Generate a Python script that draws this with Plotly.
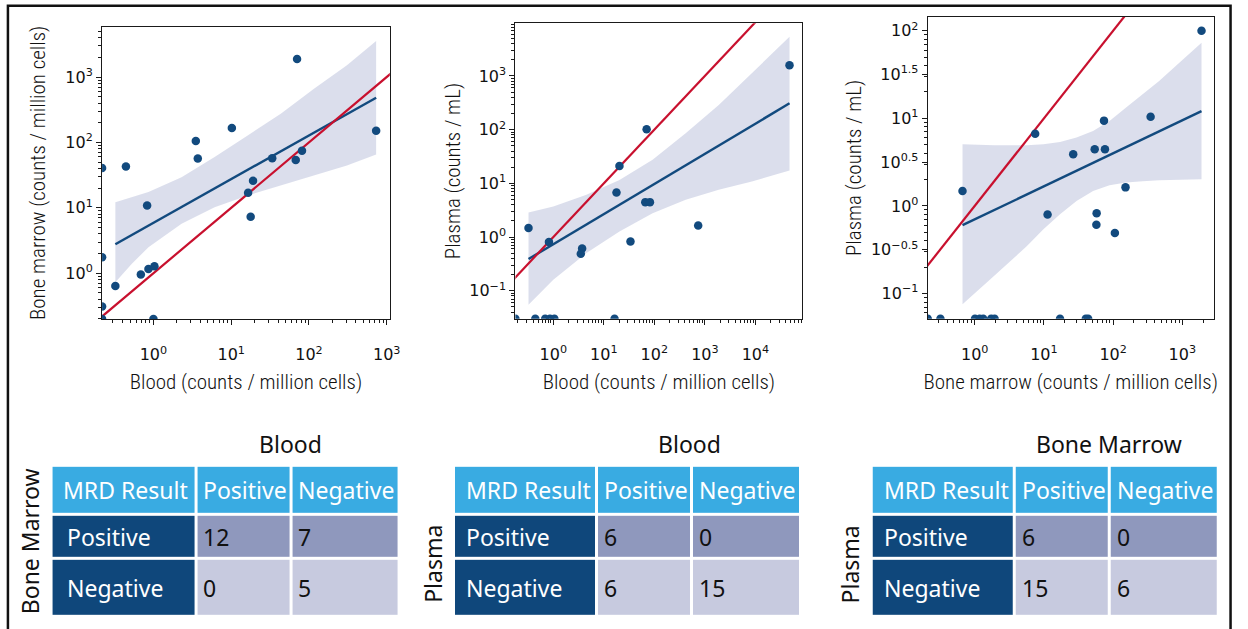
import plotly.graph_objects as go

W, H = 1248, 629

# ---------------- data (0 = below detection, drawn on the axis floor)
# Panel 1: Blood (x) vs Bone marrow (y), counts / million cells
p1_blood = [0, 0, 0, 0, 0.324, 0.443, 0.689, 0.830, 0.863, 1.03, 1.0, 3.51, 3.72,
            10.2, 16.5, 17.8, 19.1, 33.7, 67.6, 70.3, 81.4, 731]
p1_marrow = [40.5, 1.76, 0.309, 0, 0.64, 42.9, 0.954, 10.9, 1.165, 1.28, 0, 105, 56.9,
             166, 17.0, 7.28, 25.9, 57.5, 53.7, 1888, 74.5, 151]
p1_fit_x = [0.324, 731]
p1_fit_y = [2.78, 483]
p1_band_x = [0.324, 0.528, 0.863, 2.30, 6.12, 16.3, 43.4, 116, 308, 731]
p1_band_hi = [12.2, 14.6, 17.4, 29.4, 59.7, 128, 275, 662, 1510, 3560]
p1_band_lo = [0.728, 1.39, 2.50, 5.69, 10.2, 15.5, 22.0, 31.3, 44.5, 65.5]

# Panel 2: Blood (x) vs Plasma (y)
p2_blood = [0, 0.323, 0.44, 0.69, 0.86, 1.05, 0.82, 3.72, 3.50, 17.8, 20.4, 70.3,
            33.7, 66.2, 81.8, 738, 47400, 16.3]
p2_plasma = [0, 1.47, 0, 0, 0, 0, 0.81, 0.614, 0.49, 6.75, 21.1, 101.6,
             0.83, 4.47, 4.47, 1.64, 1574, 0]
p2_fit_x = [0.323, 47400]
p2_fit_y = [0.39, 309]
p2_band_x = [0.323, 1.0, 4.53, 20.4, 92.3, 417, 1884, 8511, 47400]
p2_band_hi = [2.86, 3.71, 6.11, 11.6, 27.4, 85.7, 288, 1117, 5358]
p2_band_lo = [0.0552, 0.161, 0.504, 1.27, 2.79, 4.93, 7.57, 10.8, 17.3]

# Panel 3: Bone marrow (x) vs Plasma (y)
p3_marrow = [0.667, 7.48, 11.3, 26.5, 54.2, 76.2, 73.8, 57.8, 57.3, 106, 151, 348, 1892,
             0, 0.32, 1.01, 1.18, 1.33, 1.73, 1.94, 17.1, 40.3, 43.6]
p3_plasma = [1.48, 6.68, 0.80, 3.89, 4.44, 4.44, 9.42, 0.826, 0.612, 0.492, 1.63, 10.4, 100,
             0, 0, 0, 0, 0, 0, 0, 0, 0, 0]
p3_fit_x = [0.667, 1892]
p3_fit_y = [0.603, 12.1]
p3_band_x = [0.667, 1.90, 5.69, 9.84, 17.1, 29.6, 51.3, 88.7, 154, 267, 462, 802, 1892]
p3_band_hi = [5.06, 4.93, 4.93, 5.06, 5.38, 6.03, 7.18, 9.33, 13.3, 18.8, 26.7, 39.6, 73.1]
p3_band_lo = [0.0755, 0.159, 0.349, 0.542, 0.804, 1.14, 1.48, 1.72, 1.85, 1.91, 1.96, 2.0, 2.02]

identity_line = [0.01, 1e5]   # y = x reference

# Tick labels
p1_xticks = [1, 10, 100, 1000]
p1_xtext = ["10<sup>0</sup>", "10<sup>1</sup>", "10<sup>2</sup>", "10<sup>3</sup>"]
p1_yticks = [1, 10, 100, 1000]
p1_ytext = p1_xtext
p2_xticks = [1, 10, 100, 1000, 10000]
p2_xtext = ["10<sup>0</sup>", "10<sup>1</sup>", "10<sup>2</sup>", "10<sup>3</sup>", "10<sup>4</sup>"]
p2_yticks = [0.1, 1, 10, 100, 1000]
p2_ytext = ["10<sup>\u22121</sup>", "10<sup>0</sup>", "10<sup>1</sup>", "10<sup>2</sup>", "10<sup>3</sup>"]
p3_xticks = [1, 10, 100, 1000]
p3_xtext = p1_xtext
p3_yexp = [-1, -0.5, 0, 0.5, 1, 1.5, 2]
p3_ytext = ["10<sup>\u22121</sup>", "10<sup>\u22120.5</sup>", "10<sup>0</sup>", "10<sup>0.5</sup>",
            "10<sup>1</sup>", "10<sup>1.5</sup>", "10<sup>2</sup>"]

# Tables (contingency counts)
tbl_header = ["MRD Result", "Positive", "Negative"]
tbl_rows = ["Positive", "Negative"]
t1_col_pos = [12, 0]
t1_col_neg = [7, 5]
t2_col_pos = [6, 6]
t2_col_neg = [0, 15]
t3_col_pos = [6, 15]
t3_col_neg = [0, 6]
t1_title, t1_side = "Blood", "Bone Marrow"
t2_title, t2_side = "Blood", "Plasma"
t3_title, t3_side = "Bone Marrow", "Plasma"

# ---------------- styles / layout constants
NAVY = "#124a7e"
RED = "#c8102e"
BAND = "rgba(190,194,220,0.55)"
HEAD_C = "#39abe2"
ROWLAB_C = "#0f477b"
MID_C = "#8f98bd"
LIGHT_C = "#c7cadf"
TICK_FONT = dict(family="DejaVu Sans", size=16, color="#111")
TITLE_FONT = dict(family="Liberation Sans Narrow, Roboto Condensed, Roboto, sans-serif", size=21,
                  color="#111", weight=300)
TBL_FONT = "Noto Sans"
TBL_SIZE = 23
CELL_ROLES = [[0, 0, 0], [1, 2, 2], [1, 3, 3]]          # header / row label / row-1 / row-2 fill
ROLE_SCALE = [[0, HEAD_C], [1 / 3, ROWLAB_C], [2 / 3, MID_C], [1, LIGHT_C]]
ROW_H = [48.6, 44.5, 57.6]                                # px
TBL_TOP = 465.8


def px_x(p):
    return p / W


def px_y(p):
    return 1 - p / H


panels = [
    dict(x=p1_blood, y=p1_marrow, fx=p1_fit_x, fy=p1_fit_y, bx=p1_band_x, bl=p1_band_lo, bh=p1_band_hi,
         xr=[-0.66, 3.04], yr=[-0.70, 3.77], dom_x=[103, 393.3], dom_y=[26.7, 319],
         xt=p1_xticks, xtt=p1_xtext, yt=p1_yticks, ytt=p1_ytext, ystand=13,
         xtitle="Blood (counts / million cells)", ytitle="Bone marrow (counts / million cells)"),
    dict(x=p2_blood, y=p2_plasma, fx=p2_fit_x, fy=p2_fit_y, bx=p2_band_x, bl=p2_band_lo, bh=p2_band_hi,
         xr=[-0.75, 4.93], yr=[-1.52, 3.98], dom_x=[520, 809.5], dom_y=[23.3, 318.7],
         xt=p2_xticks, xtt=p2_xtext, yt=p2_yticks, ytt=p2_ytext, ystand=2,
         xtitle="Blood (counts / million cells)", ytitle="Plasma (counts / mL)"),
    dict(x=p3_marrow, y=p3_plasma, fx=p3_fit_x, fy=p3_fit_y, bx=p3_band_x, bl=p3_band_lo, bh=p3_band_hi,
         xr=[-0.678, 3.453], yr=[-1.287, 2.157], dom_x=[936, 1224.5], dom_y=[17, 318.7],
         xt=p3_xticks, xtt=p3_xtext, yt=[10 ** e for e in p3_yexp], ytt=p3_ytext, ystand=3,
         xtitle="Bone marrow (counts / million cells)", ytitle="Plasma (counts / mL)"),
]

minor_vals = [m * 10 ** e for e in range(-3, 6) for m in range(2, 10)]

fig = go.Figure()
layout_axes = {}
for i, p in enumerate(panels, start=1):
    xa = "x" if i == 1 else f"x{i}"
    ya = "y" if i == 1 else f"y{i}"
    xfloor = 10 ** p["xr"][0]
    yfloor = 10 ** p["yr"][0]
    xs = [v if v > 0 else xfloor for v in p["x"]]
    ys = [v if v > 0 else yfloor for v in p["y"]]
    fig.add_trace(go.Scatter(x=p["bx"] + p["bx"][::-1], y=p["bh"] + p["bl"][::-1],
                             fill="toself", fillcolor=BAND, line=dict(width=0),
                             mode="lines", hoverinfo="skip", xaxis=xa, yaxis=ya))
    fig.add_trace(go.Scatter(x=p["fx"], y=p["fy"], mode="lines",
                             line=dict(color=NAVY, width=2.4), xaxis=xa, yaxis=ya))
    fig.add_trace(go.Scatter(x=identity_line, y=identity_line, mode="lines",
                             line=dict(color=RED, width=2.2), xaxis=xa, yaxis=ya))
    fig.add_trace(go.Scatter(x=xs, y=ys, mode="markers",
                             marker=dict(color=NAVY, size=8.5, line=dict(width=0)),
                             cliponaxis=True, xaxis=xa, yaxis=ya))
    common = dict(type="log", showgrid=False, zeroline=False, showline=True, mirror=True,
                  linecolor="#1a1a1a", linewidth=1.2, ticks="outside", ticklen=5, tickwidth=1.1,
                  tickcolor="#1a1a1a", tickfont=TICK_FONT, tickmode="array",
                  minor=dict(ticks="outside", ticklen=3, tickwidth=0.9, tickcolor="#1a1a1a",
                             tickmode="array", tickvals=minor_vals),
                  fixedrange=True)
    layout_axes["xaxis" if i == 1 else f"xaxis{i}"] = dict(
        common, range=p["xr"], domain=[px_x(p["dom_x"][0]), px_x(p["dom_x"][1])],
        anchor=ya, tickvals=p["xt"], ticktext=p["xtt"], ticklabelstandoff=16,
        title=dict(text=p["xtitle"], font=TITLE_FONT, standoff=11))
    layout_axes["yaxis" if i == 1 else f"yaxis{i}"] = dict(
        common, range=p["yr"], domain=[px_y(p["dom_y"][1]), px_y(p["dom_y"][0])],
        anchor=xa, tickvals=p["yt"], ticktext=p["ytt"],
        title=dict(text=p["ytitle"], font=TITLE_FONT, standoff=p["ystand"]))

tables = [
    dict(pos=t1_col_pos, neg=t1_col_neg, title=t1_title, side=t1_side, left=52.0,
         cw=[146, 95.7, 109.8], lab_pad=14, title_x=292.8, side_x=30, side_y=541.5),
    dict(pos=t2_col_pos, neg=t2_col_neg, title=t2_title, side=t2_side, left=458.0,
         cw=[144.5, 95.8, 110.2], lab_pad=10, title_x=696, side_x=436.7, side_y=564),
    dict(pos=t3_col_pos, neg=t3_col_neg, title=t3_title, side=t3_side, left=879.5,
         cw=[144.5, 95.9, 110.1], lab_pad=10, title_x=1118.8, side_x=858, side_y=564),
]

annotations = []
for k, t in enumerate(tables, start=4):
    xa, ya = f"x{k}", f"y{k}"
    col_edges = [0]
    for w in t["cw"]:
        col_edges.append(col_edges[-1] + w)
    row_edges = [0]
    for h in ROW_H:
        row_edges.append(row_edges[-1] + h)
    fig.add_trace(go.Heatmap(x=col_edges, y=row_edges, z=CELL_ROLES, zmin=0, zmax=3,
                             colorscale=ROLE_SCALE, showscale=False, xgap=3, ygap=3,
                             hoverinfo="skip", xaxis=xa, yaxis=ya))
    layout_axes[f"xaxis{k}"] = dict(domain=[px_x(t["left"]), px_x(t["left"] + col_edges[-1])],
                                    range=[0, col_edges[-1]], visible=False, fixedrange=True, anchor=ya)
    layout_axes[f"yaxis{k}"] = dict(domain=[px_y(TBL_TOP + row_edges[-1]), px_y(TBL_TOP)],
                                    range=[row_edges[-1], 0], visible=False, fixedrange=True, anchor=xa)
    grid = [tbl_header,
            [tbl_rows[0], t["pos"][0], t["neg"][0]],
            [tbl_rows[1], t["pos"][1], t["neg"][1]]]
    for r, row in enumerate(grid):
        yc = (row_edges[r] + row_edges[r + 1]) / 2
        for c, val in enumerate(row):
            if c == 0:
                pad = 10 if r == 0 else t["lab_pad"]
            else:
                pad = 5
            color = "white" if (r == 0 or c == 0) else "#111"
            annotations.append(dict(text=str(val), x=col_edges[c] + pad, y=yc, xref=xa, yref=ya,
                                    showarrow=False, xanchor="left", yanchor="middle",
                                    font=dict(family=TBL_FONT, size=TBL_SIZE, color=color)))
    annotations.append(dict(text=t["title"], x=px_x(t["title_x"]), y=px_y(444), xref="paper", yref="paper",
                            showarrow=False, xanchor="center", yanchor="middle",
                            font=dict(family=TBL_FONT, size=TBL_SIZE, color="#111")))
    annotations.append(dict(text=t["side"], x=px_x(t["side_x"]), y=px_y(t["side_y"]), xref="paper",
                            yref="paper", showarrow=False, xanchor="center", yanchor="middle",
                            textangle=-90, font=dict(family=TBL_FONT, size=TBL_SIZE, color="#111")))

fig.update_layout(
    width=W, height=H, autosize=False, margin=dict(l=0, r=0, t=0, b=0, pad=0),
    paper_bgcolor="white", plot_bgcolor="white", showlegend=False,
    annotations=annotations,
    shapes=[dict(type="rect", xref="paper", yref="paper", x0=px_x(8), x1=px_x(1241.5),
                 y0=-0.1, y1=px_y(5.8), line=dict(color="#111", width=2.5), layer="above")],
    **layout_axes,
)

fig.write_html("out.html", config={"displayModeBar": False, "responsive": False})
